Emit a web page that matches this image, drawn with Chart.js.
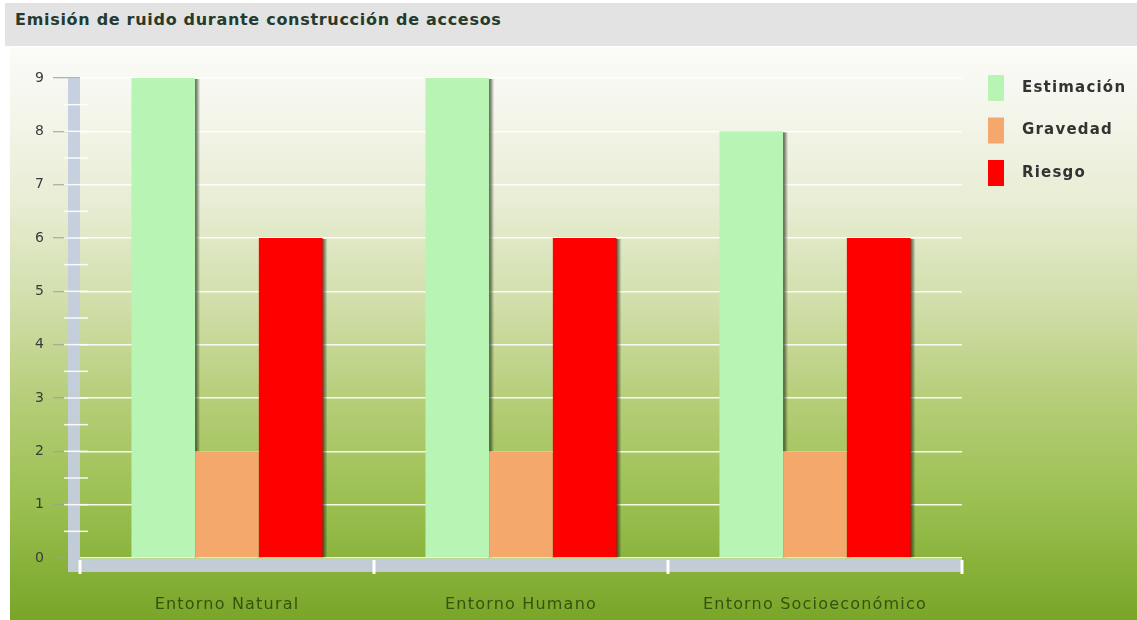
<!DOCTYPE html>
<html>
<head>
<meta charset="utf-8">
<title>Emisión de ruido durante construcción de accesos</title>
<script src="https://cdn.jsdelivr.net/npm/chart.js@4.4.0/dist/chart.umd.js"></script>
<style>
  html, body { margin: 0; padding: 0; background: #fff; }
  body { width: 1137px; height: 620px; position: relative; overflow: hidden; font-family: 'DejaVu Sans', Verdana, sans-serif; }
  #titlebar { position: absolute; left: 5px; top: 3px; width: 1132px; height: 43px; background: #e3e3e3; }
  #titlebar span { position: absolute; left: 10px; top: 7px; font-weight: bold; font-size: 16px; letter-spacing: 0.7px; color: #263a2e; white-space: nowrap; }
  #panel { position: absolute; left: 10px; top: 47px; width: 1127px; height: 573px; }
</style>
</head>
<body>
<div id="titlebar"><span>Emisión de ruido durante construcción de accesos</span></div>
<div id="panel"><canvas id="ruido" width="1127" height="573"></canvas></div>
<script>
// valores del gráfico
const categorias = ['Entorno Natural', 'Entorno Humano', 'Entorno Socioeconómico'];
const estimacion = [9, 9, 8];
const gravedad = [2, 2, 2];
const riesgo = [6, 6, 6];
const series = ['Estimación', 'Gravedad', 'Riesgo'];
const colores = ['#b8f4b4', '#f4a86c', '#ff0000'];
const yMin = 0, yMax = 9, yPaso = 1;

// fondo degradado blanco -> verde (y espaciado de letras para el texto del canvas)
const fondo = {
  id: 'fondo',
  beforeDraw(chart) {
    const { ctx, width, height } = chart;
    ctx.letterSpacing = '1.2px';
    const g = ctx.createLinearGradient(0, 0, 0, height);
    g.addColorStop(0, '#fbfbf8');
    g.addColorStop(0.09, '#f5f7ee');
    g.addColorStop(0.27, '#e8edd4');
    g.addColorStop(0.44, '#d2dfac');
    g.addColorStop(0.62, '#b5cd78');
    g.addColorStop(0.79, '#9cc052');
    g.addColorStop(1, '#78a628');
    ctx.save();
    ctx.fillStyle = g;
    ctx.fillRect(0, 0, width, height);
    ctx.restore();
  }
};

// sombra oscura a la derecha de cada barra
const sombra = {
  id: 'sombra',
  beforeDatasetsDraw(chart) {
    const ctx = chart.ctx;
    ctx.save();
    chart.data.datasets.forEach((ds, i) => {
      chart.getDatasetMeta(i).data.forEach(bar => {
        const x = bar.x + bar.width / 2;
        const g = ctx.createLinearGradient(x - 1, 0, x + 5, 0);
        g.addColorStop(0, 'rgba(30,40,20,0.9)');
        g.addColorStop(0.45, 'rgba(30,40,20,0.5)');
        g.addColorStop(1, 'rgba(30,40,20,0)');
        ctx.fillStyle = g;
        ctx.fillRect(x - 1, bar.y + 1, 6, bar.base - bar.y - 1);
      });
    });
    ctx.restore();
  }
};

// barras de los ejes con marcas blancas
const marcoEjes = {
  id: 'marcoEjes',
  afterDatasetsDraw(chart) {
    const { ctx, chartArea: a } = chart;
    const ys = chart.scales.y;
    ctx.save();
    ctx.fillStyle = 'rgba(196,206,222,0.95)';
    ctx.fillRect(a.left - 12, a.top, 12, a.bottom - a.top + 14);
    ctx.fillRect(a.left, a.bottom + 1, a.right - a.left, 13);
    ctx.strokeStyle = 'rgba(255,255,255,0.9)';
    ctx.lineWidth = 1.5;
    for (let v = yMin + 0.5; v < yMax; v += 0.5) {
      const y = ys.getPixelForValue(v);
      ctx.beginPath();
      ctx.moveTo(a.left - 16, y);
      ctx.lineTo(a.left + 8, y);
      ctx.stroke();
    }
    ctx.lineWidth = 3;
    ctx.strokeStyle = '#ffffff';
    const paso = (a.right - a.left) / categorias.length;
    for (let i = 0; i <= categorias.length; i++) {
      const x = a.left + paso * i;
      ctx.beginPath();
      ctx.moveTo(x, a.bottom + 2);
      ctx.lineTo(x, a.bottom + 16);
      ctx.stroke();
    }
    ctx.restore();
  }
};

// leyenda a la derecha
const leyenda = {
  id: 'leyenda',
  afterDraw(chart) {
    const ctx = chart.ctx;
    ctx.save();
    ctx.font = 'bold 15px "DejaVu Sans", Verdana, sans-serif';
    ctx.textBaseline = 'middle';
    chart.data.datasets.forEach((ds, i) => {
      const y = 28 + i * 42.5;
      ctx.fillStyle = ds.backgroundColor;
      ctx.fillRect(978, y, 16, 26);
      ctx.fillStyle = '#333333';
      ctx.fillText(ds.label, 1012, y + 13);
    });
    ctx.restore();
  }
};

new Chart(document.getElementById('ruido'), {
  type: 'bar',
  data: {
    labels: categorias,
    datasets: [
      { label: series[0], data: estimacion, backgroundColor: colores[0] },
      { label: series[1], data: gravedad, backgroundColor: colores[1] },
      { label: series[2], data: riesgo, backgroundColor: colores[2] }
    ]
  },
  options: {
    responsive: false,
    animation: false,
    layout: { padding: { top: 31, right: 175, left: 0, bottom: 0 } },
    datasets: { bar: { categoryPercentage: 0.65, barPercentage: 1.0, borderWidth: 0 } },
    plugins: { legend: { display: false }, tooltip: { enabled: false }, title: { display: false } },
    scales: {
      x: {
        grid: { display: false, drawTicks: false },
        border: { display: false },
        ticks: { color: '#35520f', padding: 37, font: { family: 'DejaVu Sans', size: 16 } },
        afterFit(scale) { scale.height = 62; }
      },
      y: {
        min: yMin,
        max: yMax,
        grid: { color: 'rgba(255,255,255,0.9)', lineWidth: 1.5, tickLength: 27, tickColor: '#9aa09a', tickWidth: 1 },
        border: { display: false },
        ticks: { stepSize: yPaso, color: '#3b3b3b', padding: 8, font: { family: 'DejaVu Sans', size: 14 } },
        afterFit(scale) { scale.width = 70; }
      }
    }
  },
  plugins: [fondo, sombra, marcoEjes, leyenda]
});
</script>
</body>
</html>
